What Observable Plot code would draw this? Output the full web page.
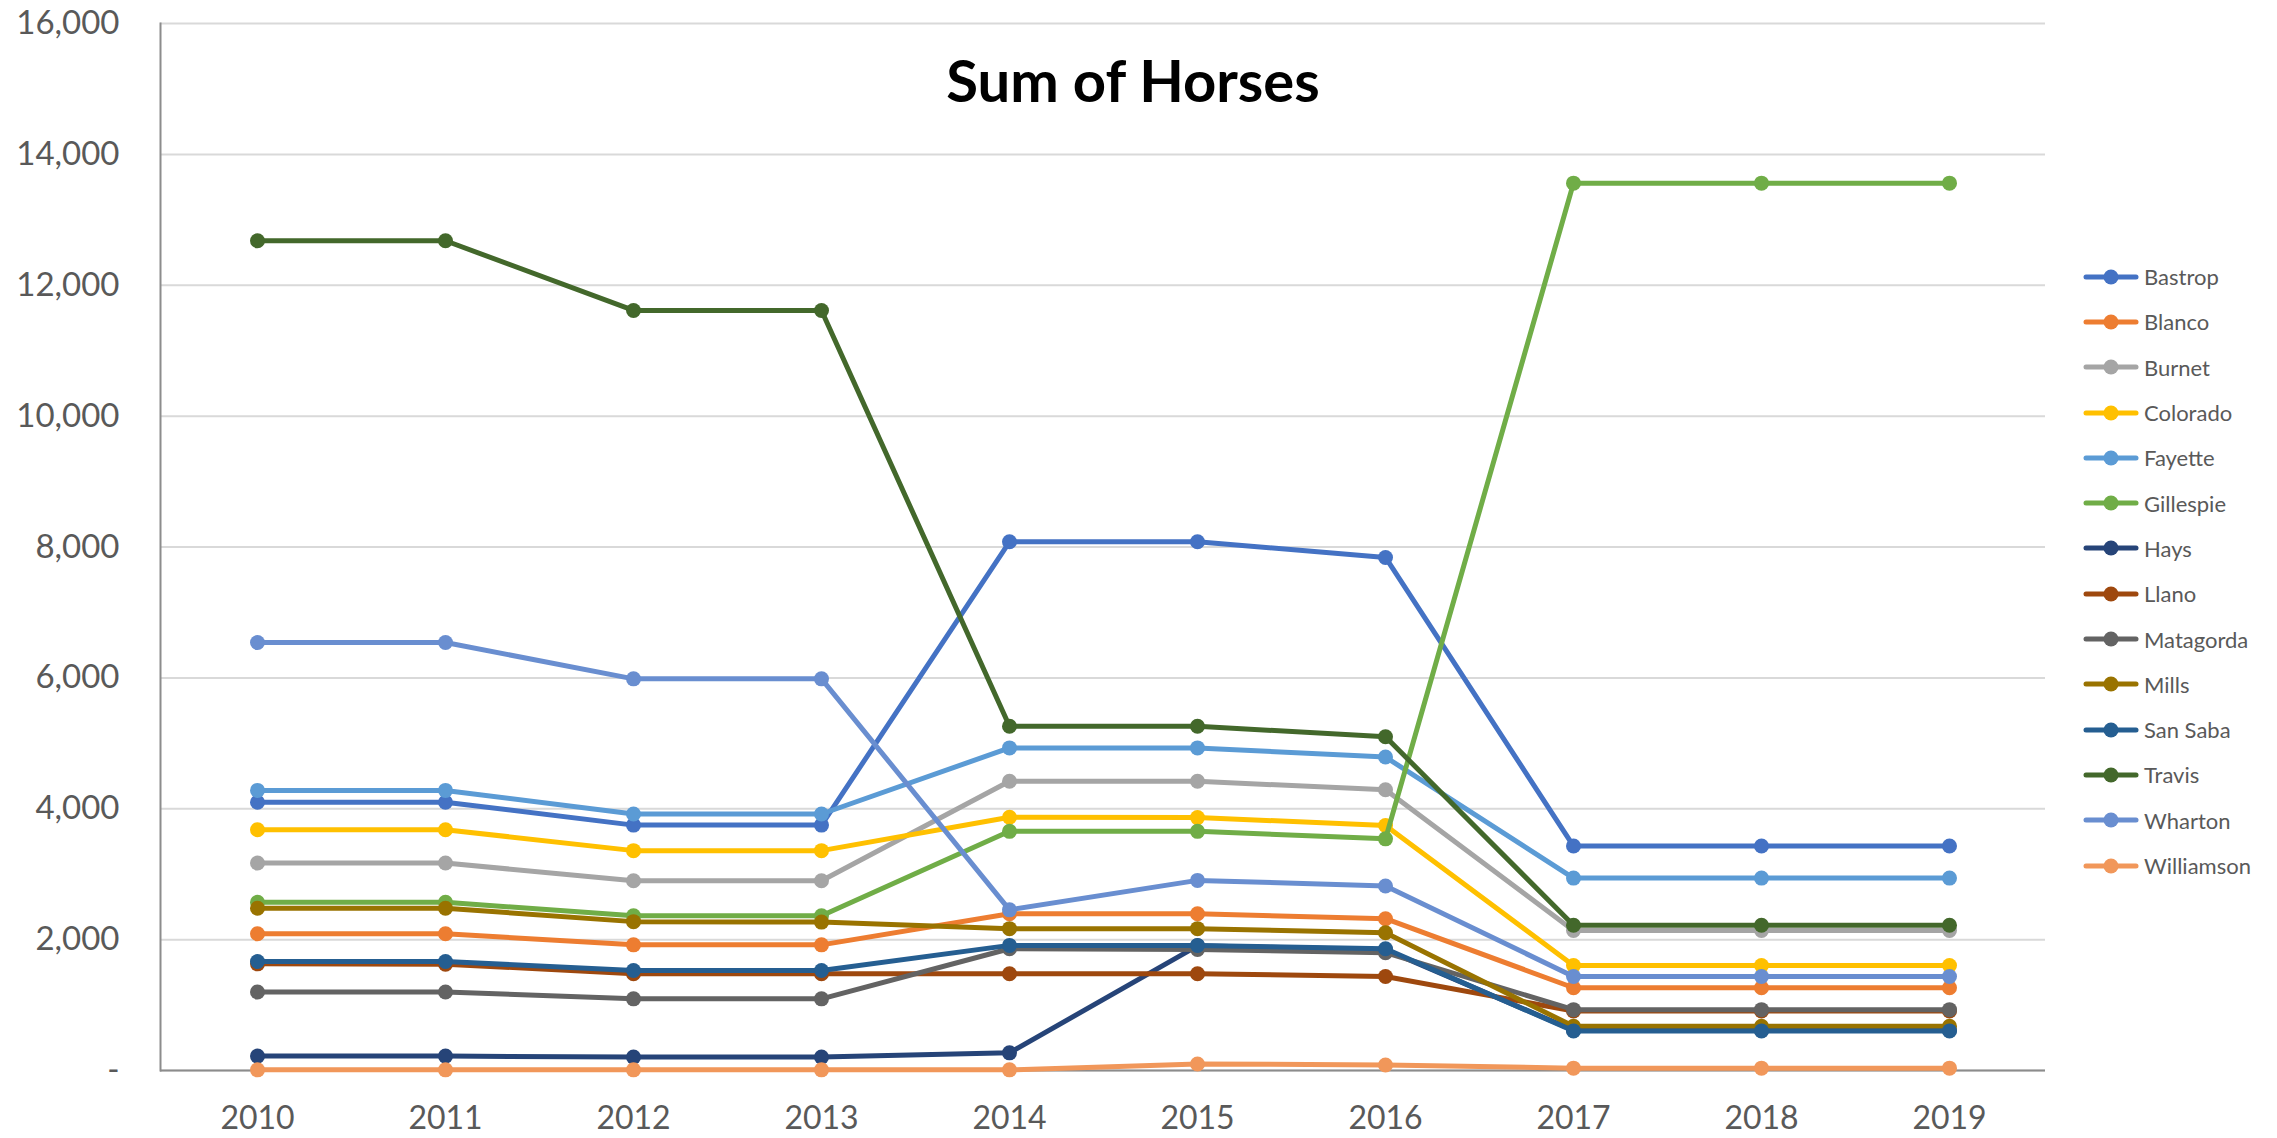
<!DOCTYPE html>
<html><head><meta charset="utf-8">
<script src="https://cdn.jsdelivr.net/npm/d3@7"></script>
<script src="https://cdn.jsdelivr.net/npm/@observablehq/plot@0.6"></script>
<style>
body{margin:0;background:#fff;}
#wrap{position:relative;width:2277px;height:1138px;font-family:Lato,"Open Sans",sans-serif;overflow:hidden;}
#title{position:absolute;left:0;width:2266px;top:48px;text-align:center;font-weight:bold;font-size:58px;color:#000;line-height:64px;}
#legend{position:absolute;left:2083px;top:254px;}
.row{height:45.3px;display:flex;align-items:center;font-size:22px;color:#595959;white-space:nowrap;}
.row svg{margin-right:5px;}
</style></head><body>
<div id="wrap"><div id="chart"></div><div id="title">Sum of Horses</div><div id="legend"></div></div>
<script>
const years = [2010, 2011, 2012, 2013, 2014, 2015, 2016, 2017, 2018, 2019];
const counties = ["Bastrop","Blanco","Burnet","Colorado","Fayette","Gillespie","Hays","Llano","Matagorda","Mills","San Saba","Travis","Wharton","Williamson"];
const colors = ["#4472C4","#ED7D31","#A5A5A5","#FFC000","#5B9BD5","#70AD47","#264478","#9E480E","#636363","#997300","#255E91","#43682B","#698ED0","#F1975A"];

const bastrop    = [4100, 4100, 3750, 3750, 8080, 8080, 7840, 3430, 3430, 3430];
const blanco     = [2090, 2090, 1920, 1920, 2395, 2395, 2320, 1265, 1265, 1265];
const burnet     = [3170, 3170, 2900, 2900, 4420, 4420, 4290, 2140, 2140, 2140];
const colorado   = [3680, 3680, 3360, 3360, 3870, 3865, 3745, 1605, 1605, 1605];
const fayette    = [4280, 4280, 3920, 3920, 4930, 4930, 4790, 2940, 2940, 2940];
const gillespie  = [2570, 2570, 2365, 2365, 3655, 3655, 3540, 13560, 13560, 13560];
const hays       = [220, 220, 205, 205, 270, 1905, 1845, 615, 615, 615];
const llano      = [1630, 1625, 1478, 1478, 1478, 1478, 1437, 910, 910, 910];
const matagorda  = [1200, 1200, 1095, 1095, 1860, 1848, 1800, 930, 930, 930];
const mills      = [2480, 2480, 2275, 2268, 2168, 2168, 2105, 675, 675, 675];
const sanSaba    = [1665, 1665, 1528, 1528, 1912, 1912, 1860, 605, 605, 605];
const travis     = [12680, 12680, 11615, 11615, 5260, 5260, 5100, 2220, 2220, 2220];
const wharton    = [6540, 6540, 5985, 5985, 2455, 2905, 2820, 1437, 1437, 1437];
const williamson = [10, 10, 10, 10, 10, 100, 85, 36, 36, 36];

const series = [bastrop, blanco, burnet, colorado, fayette, gillespie, hays, llano, matagorda, mills, sanSaba, travis, wharton, williamson];
const yTicks = [0, 2000, 4000, 6000, 8000, 10000, 12000, 14000, 16000];

const seriesMarks = counties.flatMap((c, i) => {
  const rows = years.map((y, j) => ({county: c, year: y, value: series[i][j]}));
  return [
    Plot.line(rows, {x: "year", y: "value", stroke: colors[i], strokeWidth: 5, strokeLinejoin: "round"}),
    Plot.dot(rows, {x: "year", y: "value", fill: colors[i], r: 7.5, stroke: "none"})
  ];
});

const chart = Plot.plot({
  width: 2277,
  height: 1138,
  marginLeft: 160,
  marginRight: 232,
  marginTop: 23,
  marginBottom: 68,
  style: {fontFamily: "Lato, 'Open Sans', sans-serif", fontSize: "33px", color: "#595959", background: "#fff"},
  x: {type: "point", domain: years, padding: 0.5},
  y: {domain: [0, 16000], ticks: yTicks},
  marks: [
    Plot.gridY(yTicks, {stroke: "#D9D9D9", strokeOpacity: 1, strokeWidth: 2}),
    Plot.axisY(yTicks, {tickSize: 0, tickPadding: 41, fontSize: 33, fill: "#595959", tickFormat: d => d === 0 ? "-" : d3.format(",")(d), label: null}),
    Plot.axisX(years, {tickSize: 0, tickPadding: 36, fontSize: 32, fill: "#595959", tickFormat: d => String(d), label: null}),
    Plot.frame({anchor: "left", stroke: "#8C8C8C", strokeWidth: 2}),
    Plot.ruleY([0], {stroke: "#8C8C8C", strokeWidth: 2}),
    ...seriesMarks
  ]
});
document.getElementById("chart").appendChild(chart);

const legend = document.getElementById("legend");
counties.forEach((c, i) => {
  const row = document.createElement("div");
  row.className = "row";
  row.innerHTML = `<svg width="56" height="20"><line x1="3" y1="10" x2="53" y2="10" stroke="${colors[i]}" stroke-width="5" stroke-linecap="round"/><circle cx="28" cy="10" r="7.5" fill="${colors[i]}"/></svg><span>${c}</span>`;
  legend.appendChild(row);
});
</script>
</body></html>
